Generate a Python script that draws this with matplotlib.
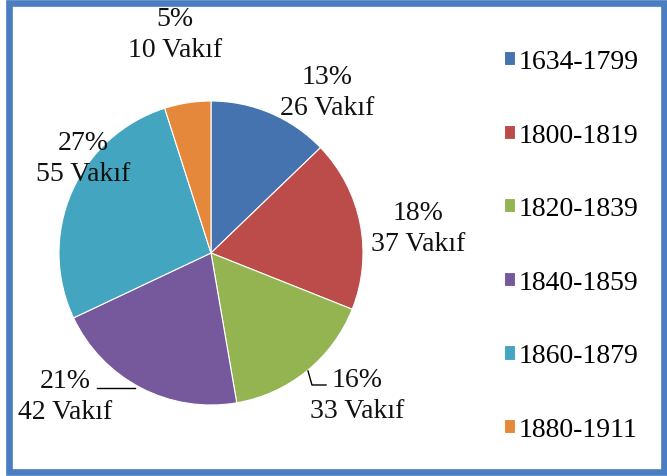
import matplotlib.pyplot as plt
from matplotlib.patches import Rectangle

periods = ['1634-1799', '1800-1819', '1820-1839', '1840-1859', '1860-1879', '1880-1911']
counts = [26, 37, 33, 42, 55, 10]
percents = ['13%', '18%', '16%', '21%', '27%', '5%']
colors = ['#4473B0', '#BB4C49', '#93B450', '#76589C', '#43A5C0', '#E6883B']

# label block centres in pixels (x from left, y from top)
label_px = [(327, 93), (418, 229), (357, 396), (65, 397), (83, 159), (175, 35)]

plt.rcParams['font.family'] = ['Liberation Serif', 'DejaVu Serif']

W, H = 667, 477
cx, cy, r = 211, 254, 152

fig = plt.figure(figsize=(W / 100, H / 100), dpi=100)
ax = fig.add_axes([0, 0, 1, 1])

wedges, _ = ax.pie(counts, colors=colors, startangle=90, counterclock=False,
                   radius=1, wedgeprops=dict(edgecolor='white', linewidth=0.8))

ax.set_xlim(-cx / r, (W - cx) / r)
ax.set_ylim((cy - H) / r, cy / r)
ax.set_aspect('equal')
ax.axis('off')

def to_data(px, py):
    return (px - cx) / r, (cy - py) / r

for pct, n, (px, py) in zip(percents, counts, label_px):
    x, y = to_data(px, py)
    ax.text(x, y, f'{pct}\n{n} Vakıf', ha='center', va='center', fontsize=20,
            linespacing=1.3, color='#111111')

# leader lines
lx, ly = zip(*[to_data(308, 372), to_data(312, 386), to_data(326, 386)])
ax.plot(lx, ly, color='black', linewidth=1)
lx, ly = zip(*[to_data(97, 389), to_data(135, 389)])
ax.plot(lx, ly, color='black', linewidth=1)

fig.legend(wedges, periods, loc='center left', bbox_to_anchor=(504 / W, 1 - 246.5 / H),
           frameon=False, fontsize=20, handlelength=0.4, handleheight=0.4,
           handletextpad=0.12, labelspacing=1.75, borderpad=0, borderaxespad=0)

fig.patches.append(Rectangle((9 / W, 4 / H), (664 - 9) / W, (473 - 4) / H,
                             transform=fig.transFigure, fill=False,
                             edgecolor='#4A7EC0', linewidth=4.8))

fig.savefig('out.png', dpi=100)
